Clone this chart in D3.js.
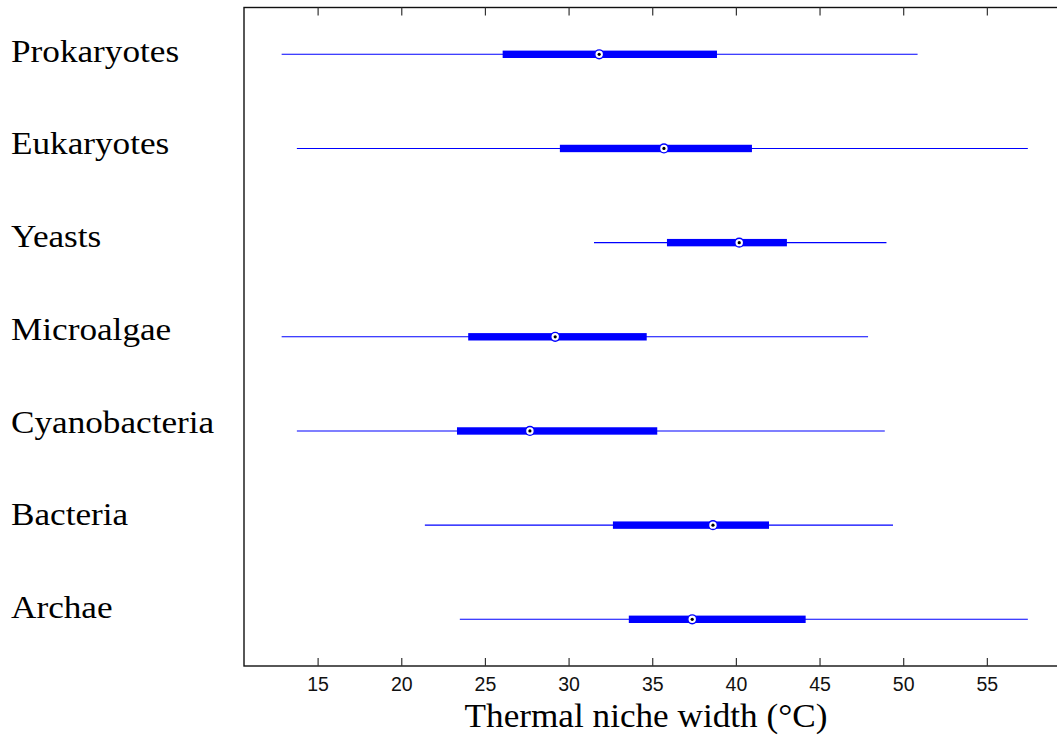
<!DOCTYPE html>
<html>
<head>
<meta charset="utf-8">
<script src="https://cdn.jsdelivr.net/npm/d3@7/dist/d3.min.js"></script>
<style>
  html, body { margin: 0; padding: 0; background: #fff; }
  svg { display: block; }
</style>
</head>
<body>
<svg id="chart" width="1057" height="737"></svg>
<script>
// ---- data ----
const categories = ["Prokaryotes", "Eukaryotes", "Yeasts", "Microalgae", "Cyanobacteria", "Bacteria", "Archae"];
const whiskerLow  = [12.85, 13.76, 31.52, 12.85, 13.76, 21.41, 23.50];
const q1          = [26.06, 29.48, 35.88, 24.00, 23.33, 32.65, 33.60];
const medians     = [31.83, 35.70, 40.20, 29.20, 27.69, 38.63, 37.39];
const q3          = [38.87, 40.96, 43.05, 34.67, 35.30, 41.98, 44.17];
const whiskerHigh = [50.86, 57.45, 49.00, 47.90, 48.90, 49.39, 57.45];
const xTicks      = [15, 20, 25, 30, 35, 40, 45, 50, 55];
const xLabel      = "Thermal niche width (°C)";

const rows = categories.map((c, i) => ({
  name: c, lo: whiskerLow[i], q1: q1[i], med: medians[i], q3: q3[i], hi: whiskerHigh[i]
}));

// ---- layout ----
const svg = d3.select("#chart");
const plotLeft = 244, plotRight = 1070.5, plotTop = 7.5, plotBottom = 666;

const x = d3.scaleLinear().domain([10.6, 60]).range([plotLeft, plotRight]);
const y = d3.scalePoint().domain(categories).range([54.3, 619.3]);
const yLabel = d3.scalePoint().domain(categories).range([61.5, 618]);

// frame
svg.append("rect")
  .attr("x", plotLeft).attr("y", plotTop)
  .attr("width", plotRight - plotLeft).attr("height", plotBottom - plotTop)
  .attr("fill", "none").attr("stroke", "#111").attr("stroke-width", 1.4);

// bottom axis (ticks inside)
const gB = svg.append("g").attr("transform", `translate(0,${plotBottom})`)
  .call(d3.axisBottom(x).tickValues(xTicks).tickSizeInner(-8).tickSizeOuter(0).tickPadding(11));
gB.select(".domain").remove();
gB.selectAll(".tick line").attr("stroke", "#333").attr("stroke-width", 1.2);
gB.selectAll(".tick text")
  .attr("font-family", "'Liberation Sans', Arial, sans-serif")
  .attr("font-size", 19.5).attr("fill", "#111");

// top axis ticks
const gT = svg.append("g").attr("transform", `translate(0,${plotTop})`)
  .call(d3.axisTop(x).tickValues(xTicks).tickSizeInner(-8).tickSizeOuter(0).tickFormat(""));
gT.select(".domain").remove();
gT.selectAll(".tick line").attr("stroke", "#333").attr("stroke-width", 1.2);

// x label
svg.append("text")
  .attr("transform", `translate(646,727) scale(1.035,1)`)
  .attr("text-anchor", "middle")
  .attr("font-family", "'Liberation Serif', 'Times New Roman', serif")
  .attr("font-size", 34).attr("fill", "#000")
  .text(xLabel);

// category labels
svg.append("g").selectAll("text").data(rows).join("text")
  .attr("transform", d => `translate(11,${yLabel(d.name)}) scale(1.1,1)`)
  .attr("font-family", "'Liberation Serif', 'Times New Roman', serif")
  .attr("font-size", 32).attr("fill", "#000")
  .text(d => d.name);

const blue = "#0000ff";
const g = svg.append("g");

// whiskers
g.selectAll("line.wh").data(rows).join("line")
  .attr("class", "wh")
  .attr("x1", d => x(d.lo)).attr("x2", d => x(d.hi))
  .attr("y1", d => y(d.name)).attr("y2", d => y(d.name))
  .attr("stroke", blue).attr("stroke-width", 1.1);

// boxes (thick bars)
g.selectAll("rect.box").data(rows).join("rect")
  .attr("class", "box")
  .attr("x", d => x(d.q1)).attr("width", d => x(d.q3) - x(d.q1))
  .attr("y", d => y(d.name) - 3.7).attr("height", 7.4)
  .attr("fill", blue);

// median markers
g.selectAll("circle.med").data(rows).join("circle")
  .attr("class", "med")
  .attr("cx", d => x(d.med)).attr("cy", d => y(d.name))
  .attr("r", 4.4)
  .attr("fill", "#fff").attr("stroke", blue).attr("stroke-width", 1.4);

g.selectAll("circle.dot").data(rows).join("circle")
  .attr("class", "dot")
  .attr("cx", d => x(d.med)).attr("cy", d => y(d.name))
  .attr("r", 1.6)
  .attr("fill", "#000");
</script>
</body>
</html>
